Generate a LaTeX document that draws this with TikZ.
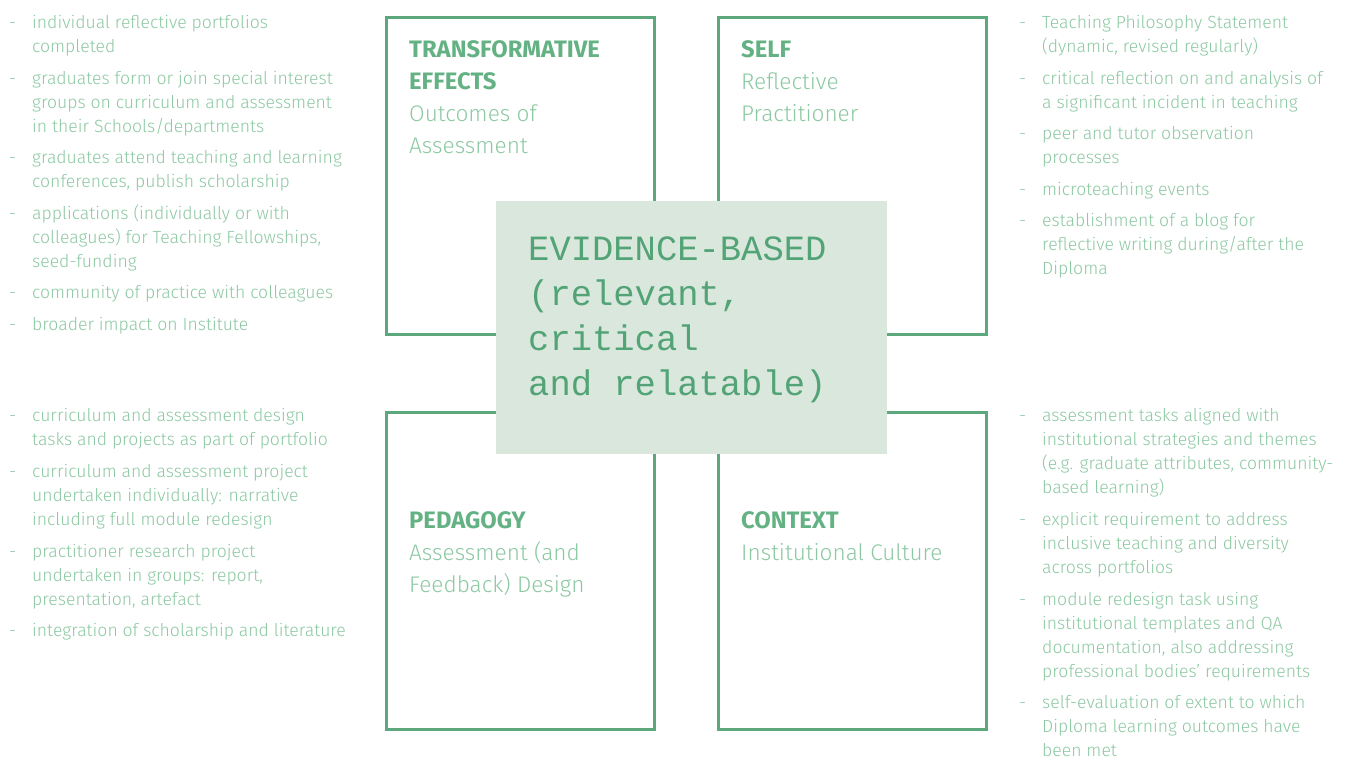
\documentclass[tikz,border=0pt]{standalone}
\usepackage{fontspec}
\setmainfont{Fira Sans Light}[BoldFont=Fira Sans Bold]
\setmonofont{Liberation Mono}

\definecolor{boxgreen}{RGB}{92,168,124}
\definecolor{headgreen}{RGB}{100,178,132}
\definecolor{textgreen}{RGB}{140,200,162}
\definecolor{fillgreen}{RGB}{218,231,221}
\definecolor{monogreen}{RGB}{82,163,118}

\tikzset{
    quadbox/.style={draw=boxgreen, line width=3pt, anchor=north west,
        minimum width=268, minimum height=317, inner sep=0},
    hubbox/.style={fill=fillgreen, anchor=north west,
        minimum width=391, minimum height=253, inner sep=0},
    quadhead/.style={anchor=base west, align=left, inner sep=0, text=headgreen,
        font=\bfseries\fontsize{23.8}{32}\selectfont},
    quadsub/.style={anchor=base west, align=left, inner sep=0, text=textgreen,
        font=\fontsize{22.6}{32}\selectfont},
    hubtext/.style={anchor=base west, align=left, inner sep=0, text=monogreen,
        font=\ttfamily\fontsize{35.5}{45}\selectfont},
    hyph/.style={anchor=base west, inner sep=0, text=textgreen,
        font=\fontsize{17.6}{24}\selectfont},
    itemtext/.style={anchor=base west, align=left, inner sep=0, text=textgreen,
        font=\fontsize{17.6}{24}\selectfont},
}

% one bulleted entry: name, x of the dash, first baseline, lines, text
% (a multi-line node sits on its last line)
\newcommand{\listitem}[5]{%
    \node[hyph] (#1d) at (#2,#3) {-};
    \node[itemtext] (#1) at (#2+23,#3+24*#4-24) {#5};
}

\begin{document}
\begin{tikzpicture}[x=1pt, y=-1pt]
    \useasboundingbox (0,0) rectangle (1349,756);

    % the four quadrants
    \node[quadbox] (te) at (384.5,15.5) {};
    \node[quadbox] (se) at (716.5,15.5) {};
    \node[quadbox] (pe) at (384.5,410.5) {};
    \node[quadbox] (co) at (716.5,410.5) {};

    % evidence-based centre (base = last line)
    \node[hubbox] (hub) at (496,201) {};
    \node[hubtext] (hubt) at (528,395) {EVIDENCE-BASED\\{}(relevant,\\critical\\and relatable)};

    % quadrant titles (base = last line)
    \node[quadhead] (te-h) at (409,89) {TRANSFORMATIVE\\EFFECTS};
    \node[quadsub]  (te-s) at (409,153) {Outcomes of\\Assessment};
    \node[quadhead] (se-h) at (741,57) {SELF};
    \node[quadsub]  (se-s) at (741,121) {Reflective\\Practitioner};
    \node[quadhead] (pe-h) at (409,528) {PEDAGOGY};
    \node[quadsub]  (pe-s) at (409,592) {Assessment (and\\Feedback) Design};
    \node[quadhead] (co-h) at (741,528) {CONTEXT};
    \node[quadsub]  (co-s) at (741,560) {Institutional Culture};

    % transformative effects
    \listitem{te1}{9}{28}{2}{individual reflective portfolios\\completed}
    \listitem{te2}{9}{84}{3}{graduates form or join special interest\\groups on curriculum and assessment\\in their Schools/departments}
    \listitem{te3}{9}{163}{2}{graduates attend teaching and learning\\conferences, publish scholarship}
    \listitem{te4}{9}{219}{3}{applications (individually or with\\colleagues) for Teaching Fellowships,\\seed-funding}
    \listitem{te5}{9}{298}{1}{community of practice with colleagues}
    \listitem{te6}{9}{330}{1}{broader impact on Institute}

    % pedagogy
    \listitem{pe1}{9}{421}{2}{curriculum and assessment design\\tasks and projects as part of portfolio}
    \listitem{pe2}{9}{477}{3}{curriculum and assessment project\\undertaken individually: narrative\\including full module redesign}
    \listitem{pe3}{9}{557}{3}{practitioner research project\\undertaken in groups: report,\\presentation, artefact}
    \listitem{pe4}{9}{636}{1}{integration of scholarship and literature}

    % self
    \listitem{se1}{1019}{28}{2}{Teaching Philosophy Statement\\{}(dynamic, revised regularly)}
    \listitem{se2}{1019}{84}{2}{critical reflection on and analysis of\\a significant incident in teaching}
    \listitem{se3}{1019}{139}{2}{peer and tutor observation\\processes}
    \listitem{se4}{1019}{195}{1}{microteaching events}
    \listitem{se5}{1019}{226}{3}{establishment of a blog for\\reflective writing during/after the\\Diploma}

    % context
    \listitem{co1}{1019}{421}{4}{assessment tasks aligned with\\institutional strategies and themes\\{}(e.g. graduate attributes, community-\\based learning)}
    \listitem{co2}{1019}{525}{3}{explicit requirement to address\\inclusive teaching and diversity\\across portfolios}
    \listitem{co3}{1019}{605}{4}{module redesign task using\\institutional templates and QA\\documentation, also addressing\\professional bodies’ requirements}
    \listitem{co4}{1019}{708}{3}{self-evaluation of extent to which\\Diploma learning outcomes have\\been met}
\end{tikzpicture}
\end{document}
